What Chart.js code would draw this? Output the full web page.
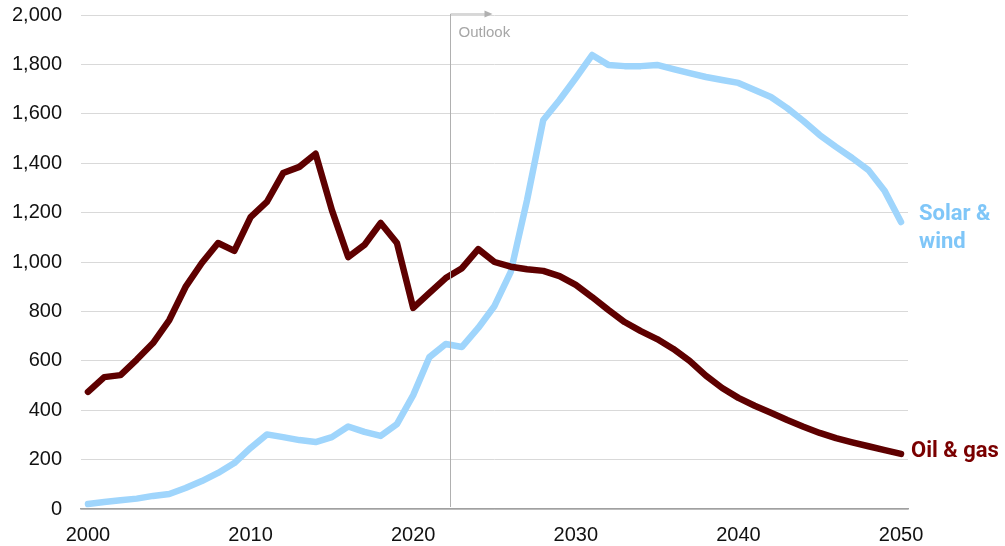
<!DOCTYPE html>
<html>
<head>
<meta charset="utf-8">
<script src="https://cdn.jsdelivr.net/npm/chart.js@4"></script>
<style>
  html, body { margin: 0; padding: 0; background: #fff; }
  #wrap { width: 1005px; height: 546px; }
</style>
</head>
<body>
<div id="wrap"><canvas id="grafico" width="1005" height="546"></canvas></div>
<script>
const years = [];
for (let y = 2000; y <= 2050; y++) years.push(y);

const oilGas = [474, 534, 542, 605, 672, 765, 899, 996, 1077, 1045,
  1182, 1243, 1360, 1385, 1438, 1210, 1020, 1069, 1158, 1077,
  814, 875, 935, 975, 1052, 1000, 981, 971, 964, 943,
  907, 858, 806, 757, 720, 688, 648, 600, 540, 490,
  450, 418, 390, 360, 333, 308, 287, 270, 254, 238, 223];

const solarWind = [20, 28, 35, 42, 53, 61, 85, 113, 146, 186,
  247, 302, 291, 279, 271, 291, 334, 312, 296, 344,
  461, 615, 668, 656, 733, 822, 960, 1250, 1575, 1656,
  1745, 1838, 1798, 1793, 1793, 1798, 1781, 1765, 1749, 1737,
  1725, 1696, 1668, 1623, 1571, 1514, 1466, 1421, 1372, 1287, 1162];

const xTicks = [2000, 2010, 2020, 2030, 2040, 2050];
const outlookYear = 2022.25;
const labelSolar = ['Solar &', 'wind'];
const labelOil = 'Oil & gas';

const oilColor = '#5e0000';
const oilText = '#7a0000';
const solarColor = '#9fd5fc';
const solarText = '#7fc6f8';

const annotations = {
  id: 'annotations',
  afterDatasetsDraw(chart) {
    const ctx = chart.ctx;
    const xs = chart.scales.x, ys = chart.scales.y;
    const area = chart.chartArea;

    // outlook marker
    const ox = Math.round(xs.getPixelForValue(outlookYear)) + 0.5;
    ctx.save();
    ctx.strokeStyle = '#b0b0b0';
    ctx.fillStyle = '#b0b0b0';
    ctx.lineWidth = 1;
    ctx.beginPath();
    ctx.moveTo(ox, area.bottom - 2);
    ctx.lineTo(ox, area.top - 1);
    ctx.lineTo(ox + 36, area.top - 1);
    ctx.stroke();
    ctx.beginPath();
    ctx.moveTo(ox + 42, area.top - 1);
    ctx.lineTo(ox + 34, area.top - 4.5);
    ctx.lineTo(ox + 34, area.top + 2.5);
    ctx.closePath();
    ctx.fill();
    ctx.font = '15px "Liberation Sans", Arial, sans-serif';
    ctx.fillStyle = '#a6a6a6';
    ctx.textAlign = 'left';
    ctx.textBaseline = 'alphabetic';
    ctx.fillText('Outlook', ox + 8, area.top + 22);

    // series labels at the line ends
    const last = years.length - 1;
    const ex = xs.getPixelForValue(years[last]);
    ctx.font = 'bold 22px Roboto, "Liberation Sans", sans-serif';
    ctx.textBaseline = 'middle';
    ctx.fillStyle = solarText;
    const sy = ys.getPixelForValue(solarWind[last]);
    ctx.fillText(labelSolar[0], ex + 18, sy - 7);
    ctx.fillText(labelSolar[1], ex + 18, sy + 21);
    ctx.fillStyle = oilText;
    const oy = ys.getPixelForValue(oilGas[last]);
    ctx.fillText(labelOil, ex + 10, oy - 2);
    ctx.restore();
  }
};

new Chart(document.getElementById('grafico'), {
  type: 'line',
  data: {
    datasets: [
      {
        label: 'Oil & gas',
        data: years.map((y, i) => ({ x: y, y: oilGas[i] })),
        borderColor: oilColor,
        borderWidth: 6.5,
        borderJoinStyle: 'round',
        borderCapStyle: 'round',
        pointRadius: 0,
        tension: 0
      },
      {
        label: 'Solar & wind',
        data: years.map((y, i) => ({ x: y, y: solarWind[i] })),
        borderColor: solarColor,
        borderWidth: 6.5,
        borderJoinStyle: 'round',
        borderCapStyle: 'round',
        pointRadius: 0,
        tension: 0
      }
    ]
  },
  options: {
    responsive: false,
    animation: false,
    layout: { padding: { top: 15, right: 97, left: 0, bottom: 0 } },
    plugins: {
      legend: { display: false },
      tooltip: { enabled: false }
    },
    scales: {
      x: {
        type: 'linear',
        min: 1999.57,
        max: 2050.43,
        afterBuildTicks: s => { s.ticks = xTicks.map(v => ({ value: v })); },
        afterFit: s => { s.height = 37; },
        grid: { display: false, drawTicks: false },
        border: { display: true, color: '#a0a0a0', width: 1.5 },
        ticks: {
          padding: 14,
          color: '#111',
          font: { family: '"Liberation Sans", Arial, sans-serif', size: 20 },
          callback: v => String(v),
          maxRotation: 0
        }
      },
      y: {
        min: 0,
        max: 2000,
        afterFit: s => { s.width = 81; s.paddingTop = 0; s.paddingBottom = 0; },
        grid: { color: '#d9d9d9', lineWidth: 1, drawTicks: false },
        border: { display: false },
        ticks: {
          stepSize: 200,
          padding: 19,
          color: '#111',
          font: { family: '"Liberation Sans", Arial, sans-serif', size: 20 },
          callback: v => v.toLocaleString('en-US')
        }
      }
    }
  },
  plugins: [annotations]
});
</script>
</body>
</html>
